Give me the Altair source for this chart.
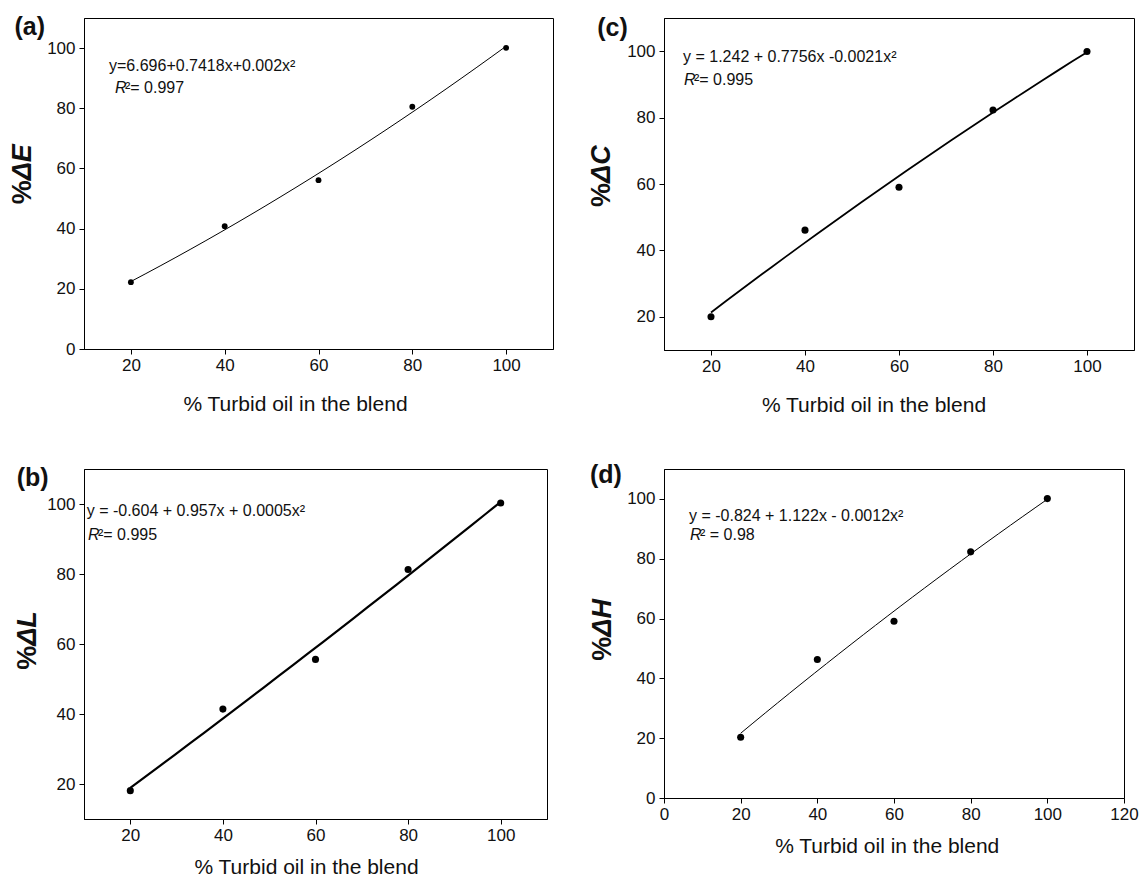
import altair as alt
import pandas as pd

FONT = "Liberation Sans"

# % turbid oil in the blend
X_VALUES = [20, 40, 60, 80, 100]
DELTA_E = [22.2, 40.8, 56.1, 80.5, 100.1]
DELTA_C = [20.0, 46.1, 59.0, 82.3, 99.9]
DELTA_L = [18.1, 41.4, 55.6, 81.3, 100.3]
DELTA_H = [20.3, 46.3, 59.1, 82.3, 100.1]

X_TICKS_ABC = [20, 40, 60, 80, 100]
X_TICKS_D = [0, 20, 40, 60, 80, 100, 120]
Y_TICKS_0 = [0, 20, 40, 60, 80, 100]
Y_TICKS_20 = [20, 40, 60, 80, 100]

EQ_A = "y=6.696+0.7418x+0.002x²"
EQ_C = "y = 1.242 + 0.7756x -0.0021x²"
EQ_B = "y = -0.604 + 0.957x + 0.0005x²"
EQ_D = "y = -0.824 + 1.122x - 0.0012x²"
R2_A = "²= 0.997"
R2_C = "²= 0.995"
R2_B = "²= 0.995"
R2_D = "² = 0.98"

X_TITLE = "% Turbid oil in the blend"
INK = "#111111"


def txt(s, x, y, size=16, weight="normal", style="normal", align="left",
        baseline="alphabetic", angle=0):
    return alt.Chart(pd.DataFrame({"t": [s]})).mark_text(
        align=align, baseline=baseline, fontSize=size, fontWeight=weight,
        fontStyle=style, angle=angle, font=FONT, color=INK
    ).encode(x=alt.value(x), y=alt.value(y), text="t:N")


def panel(yvals, w, h, xdom, ydom, xticks, yticks, label, lab_xy,
          pct, dsym, ytx, yjunc, eq, eq_xy, r2, r_xy, title_x, title_y,
          lw, ps):
    df = pd.DataFrame({"x": X_VALUES, "y": yvals})
    common = dict(labelFont=FONT, labelFontSize=17, labelColor=INK,
                  domainColor="black", tickColor="black", tickSize=5,
                  grid=False, labelOverlap=False)
    xs = alt.X("x:Q",
               scale=alt.Scale(domain=xdom, nice=False, zero=False),
               axis=alt.Axis(values=xticks, title=X_TITLE, titleX=title_x,
                             titleY=title_y, titleBaseline="alphabetic",
                             titleAlign="center", labelFlush=False,
                             labelPadding=3, titleFont=FONT,
                             titleFontSize=21, titleFontWeight="normal",
                             titleColor=INK, **common))
    ys = alt.Y("y:Q",
               scale=alt.Scale(domain=ydom, nice=False, zero=False),
               axis=alt.Axis(values=yticks, title=None, labelPadding=4,
                             **common))
    base = alt.Chart(df)
    line = base.transform_regression(
        "x", "y", method="poly", order=2, extent=[20, 100]
    ).mark_line(color="black", strokeWidth=lw).encode(x=xs, y=ys)
    pts = base.mark_circle(size=ps, color="black", opacity=1).encode(x=xs, y=ys)
    layers = [
        line, pts,
        txt(label, lab_xy[0], lab_xy[1], size=25, weight="bold"),
        txt(pct, ytx, yjunc, size=27, weight="bold", align="right",
            baseline="middle", angle=270),
        txt(dsym, ytx, yjunc, size=27, weight="bold", style="italic",
            align="left", baseline="middle", angle=270),
        txt(eq, eq_xy[0], eq_xy[1]),
        txt("R", r_xy[0], r_xy[1], style="italic"),
        txt(r2, r_xy[0] + 10, r_xy[1]),
    ]
    return alt.layer(*layers).properties(width=w, height=h)


pa = panel(DELTA_E, 469, 331, [10, 110], [0, 110], X_TICKS_ABC, Y_TICKS_0,
           "(a)", (-69.6, 17.3), "%", "ΔE", -61.3, 162.3,
           EQ_A, (25, 53), R2_A, (31, 74.6), 211, 61.6, 1.0, 34)
pc = panel(DELTA_C, 470, 332, [10, 110], [10, 110], X_TICKS_ABC, Y_TICKS_20,
           "(c)", (-66.8, 18.3), "%", "ΔC", -62, 165,
           EQ_C, (19, 44.3), R2_C, (20, 66.7), 209.5, 61.3, 1.8, 50)
pb = panel(DELTA_L, 463, 350, [10, 110], [10, 110], X_TICKS_ABC, Y_TICKS_20,
           "(b)", (-67.3, 16.6), "% ", "ΔL", -56.3, 176.8,
           EQ_B, (2.7, 47.3), R2_B, (4, 70.6), 222, 54, 2.2, 50)
pd_ = panel(DELTA_H, 460, 329, [0, 120], [0, 110], X_TICKS_D, Y_TICKS_0,
            "(d)", (-74, 14.4), "%", "ΔH", -60.6, 167.7,
            EQ_D, (25, 51.7), R2_D, (26, 71), 222.7, 54, 1.0, 50)

chart = alt.concat(
    pa, pc, pb, pd_, columns=2,
    spacing={"row": 119, "column": 111},
    bounds="flush", align="each"
).properties(
    padding={"left": 8, "top": 14, "right": 0, "bottom": 0}
).configure_view(
    stroke="black", strokeWidth=1
).configure_axis(
    domainWidth=1, tickWidth=1
)

chart.save("out.html", embed_options={"renderer": "svg", "actions": False})
